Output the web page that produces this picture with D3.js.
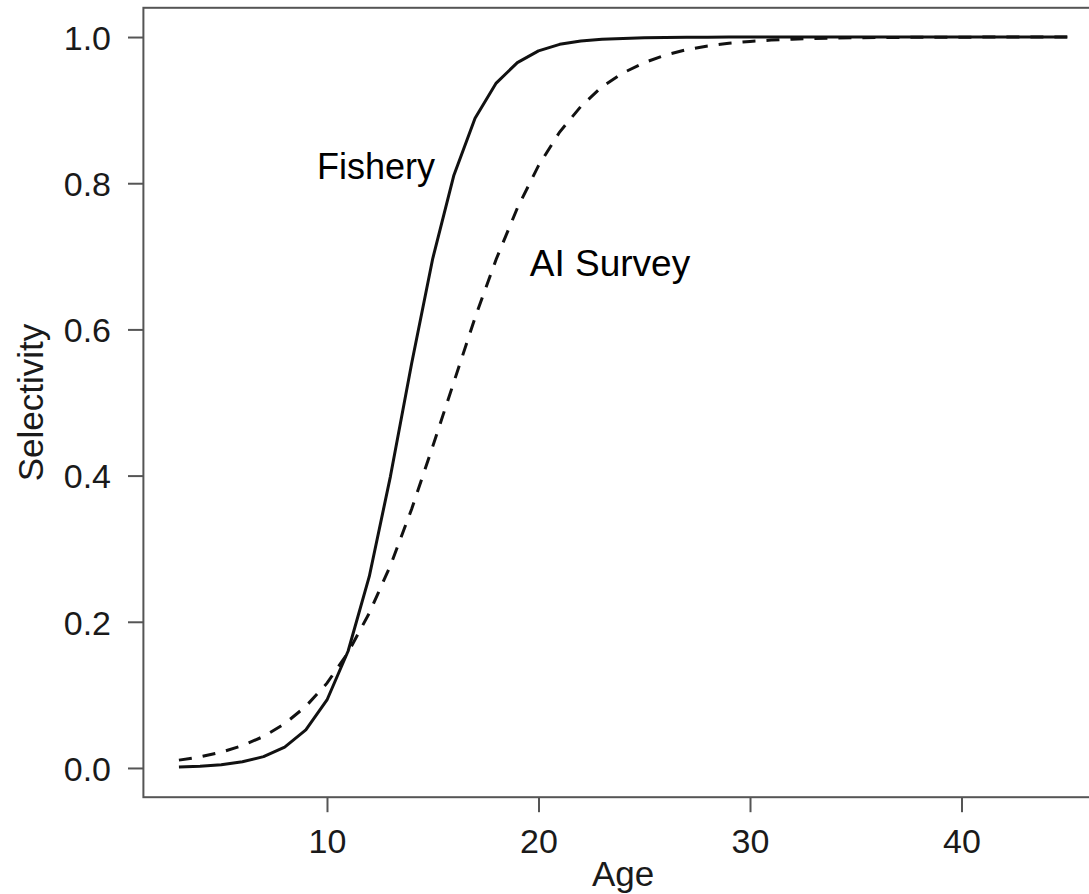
<!DOCTYPE html>
<html>
<head>
<meta charset="utf-8">
<script src="https://cdn.jsdelivr.net/npm/d3@7"></script>
<style>
  html, body { margin: 0; padding: 0; background: #fff; }
  svg { display: block; font-family: "Liberation Sans", Arial, sans-serif; }
</style>
</head>
<body>
<svg id="chart" width="1089" height="894"></svg>
<script>
// Selectivity-at-age curves
const ages = d3.range(3, 46);
const fishery = [
  0.0013, 0.0024, 0.0045, 0.0084, 0.0155, 0.0286, 0.052, 0.093, 0.160, 0.262,
  0.399, 0.553, 0.697, 0.811, 0.889, 0.937, 0.965, 0.981, 0.990, 0.9945,
  0.997, 0.998, 0.999, 0.9995, 0.9997, 0.9998, 0.9999, 1.0, 1.0, 1.0,
  1.0, 1.0, 1.0, 1.0, 1.0, 1.0, 1.0, 1.0, 1.0, 1.0,
  1.0, 1.0, 1.0
];
const aiSurvey = [
  0.0107, 0.0152, 0.0216, 0.0306, 0.0431, 0.0605, 0.0843, 0.116, 0.158, 0.212,
  0.277, 0.354, 0.440, 0.528, 0.616, 0.696, 0.766, 0.824, 0.870, 0.905,
  0.932, 0.951, 0.965, 0.9755, 0.9827, 0.9878, 0.9915, 0.994, 0.9958, 0.9971,
  0.9979, 0.9986, 0.999, 0.9993, 0.9995, 0.9997, 0.9998, 0.9998, 0.9999, 0.9999,
  1.0, 1.0, 1.0
];
const xTicks = [10, 20, 30, 40];
const yTicks = [0.0, 0.2, 0.4, 0.6, 0.8, 1.0];
const labels = [
  { text: "Fishery", age: 12.32, sel: 0.823, size: 36 },
  { text: "AI Survey", age: 23.38, sel: 0.691, size: 37 }
];

const svg = d3.select("#chart");

const x = d3.scaleLinear().domain([1.32, 46.68]).range([143.4, 1102.8]);
const y = d3.scaleLinear().domain([-0.04, 1.04]).range([797.2, 7.8]);

svg.append("rect").attr("width", 1089).attr("height", 894).attr("fill", "#fff");

const axisColor = "#555";

// x axis
const gx = svg.append("g")
  .attr("transform", `translate(0,${y(-0.04)})`)
  .call(d3.axisBottom(x).tickValues(xTicks).tickSize(15).tickPadding(16.5)
    .tickFormat(d3.format("d")));
gx.select(".domain").remove();
gx.selectAll(".tick line").attr("stroke", axisColor).attr("stroke-width", 2);
gx.selectAll(".tick text").attr("fill", "#1a1a1a").attr("font-size", 34)
  .attr("font-family", "Liberation Sans, Arial, sans-serif");

// y axis
const gy = svg.append("g")
  .attr("transform", `translate(${x(1.32)},0)`)
  .call(d3.axisLeft(y).tickValues(yTicks).tickSize(15.4).tickPadding(17)
    .tickFormat(d3.format(".1f")));
gy.select(".domain").remove();
gy.selectAll(".tick line").attr("stroke", axisColor).attr("stroke-width", 2);
gy.selectAll(".tick text").attr("fill", "#1a1a1a").attr("font-size", 34)
  .attr("dy", "0.36em")
  .attr("font-family", "Liberation Sans, Arial, sans-serif");

// plot frame
svg.append("rect")
  .attr("x", x(1.32)).attr("y", y(1.04))
  .attr("width", x(46.68) - x(1.32)).attr("height", y(-0.04) - y(1.04))
  .attr("fill", "none").attr("stroke", axisColor).attr("stroke-width", 2);

// curves
const line = d3.line().x(d => x(d[0])).y(d => y(d[1]));

svg.append("path")
  .datum(ages.map((a, i) => [a, aiSurvey[i]]))
  .attr("d", line)
  .attr("fill", "none").attr("stroke", "#111").attr("stroke-width", 3)
  .attr("stroke-dasharray", "13 11");

svg.append("path")
  .datum(ages.map((a, i) => [a, fishery[i]]))
  .attr("d", line)
  .attr("fill", "none").attr("stroke", "#111").attr("stroke-width", 3)
  .attr("stroke-linejoin", "round");

// curve labels
svg.selectAll("text.curve-label")
  .data(labels)
  .enter().append("text")
  .attr("class", "curve-label")
  .attr("x", d => x(d.age))
  .attr("y", d => y(d.sel))
  .attr("dy", "0.36em")
  .attr("text-anchor", "middle")
  .attr("font-size", d => d.size)
  .attr("fill", "#000")
  .text(d => d.text);

// axis titles
svg.append("text")
  .attr("x", (x(1.32) + x(46.68)) / 2)
  .attr("y", 886)
  .attr("text-anchor", "middle")
  .attr("font-size", 35)
  .attr("fill", "#1a1a1a")
  .text("Age");

svg.append("text")
  .attr("transform", `translate(43,${(y(-0.04) + y(1.04)) / 2}) rotate(-90)`)
  .attr("text-anchor", "middle")
  .attr("font-size", 35)
  .attr("fill", "#1a1a1a")
  .text("Selectivity");
</script>
</body>
</html>
